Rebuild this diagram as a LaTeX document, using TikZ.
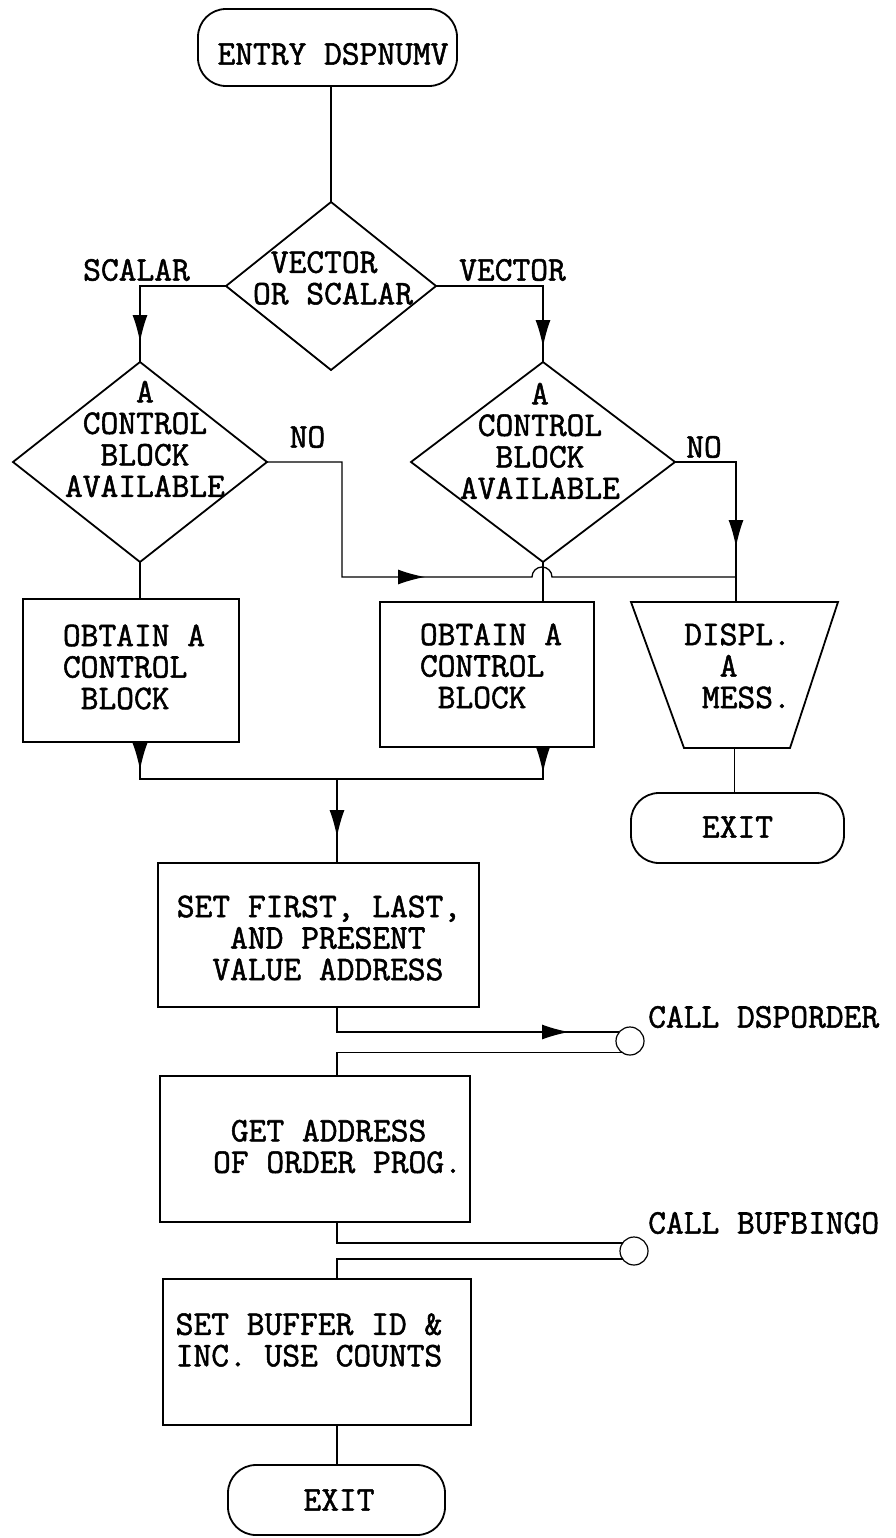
\documentclass[tikz,border=0pt]{standalone}
\usepackage{fontspec}
\newfontfamily\tw[FakeBold=1.5]{Latin Modern Mono}
\usetikzlibrary{arrows.meta,shapes.geometric,decorations.markings}
\begin{document}
\begin{tikzpicture}[x=1pt,y=-1pt,
  shp/.style={draw=black, line width=1.8pt, inner sep=0pt, outer sep=0pt},
  boxn/.style={shp, rectangle},
  term/.style={shp, rectangle, rounded corners=28pt},
  dia/.style={shp, diamond},
  txt/.style={font=\tw\fontsize{34.5}{31.5}\selectfont, align=left, inner sep=0pt, text=black},
  con/.style={draw=black, line width=1.3pt},
  midarrow/.style={postaction={decorate}, decoration={markings, mark=at position #1 with {\arrow{Latex[length=27pt,width=15pt]}}}}
]
\fill[white] (0,0) rectangle (895,1538);
\useasboundingbox (0,0) rectangle (895,1538);

% shapes
\node[term, minimum width=259pt, minimum height=77pt] (entry) at (327.5,47.5) {};
\node[txt] (entryt) at (333,54) {ENTRY DSPNUMV};

\node[dia, minimum width=210pt, minimum height=168pt] (d1) at (331,286) {};
\node[txt] (d1t) at (333,278) {\phantom{X}VECTOR\\OR SCALAR};
\node[txt] (lscal) at (136.5,270) {SCALAR};
\node[txt] (lvec) at (512.5,270) {VECTOR};

\node[dia, minimum width=254pt, minimum height=200pt] (d2) at (140,462) {};
\node[txt] (d2t) at (145,439) {\phantom{XXXX}A\\\phantom{X}CONTROL\\\phantom{XX}BLOCK\\AVAILABLE};
\node[dia, minimum width=264pt, minimum height=200pt] (d3) at (543,462) {};
\node[txt] (d3t) at (540,441) {\phantom{XXXX}A\\\phantom{X}CONTROL\\\phantom{XX}BLOCK\\AVAILABLE};
\node[txt] (no1) at (307.5,437) {NO};
\node[txt] (no2) at (704,447) {NO};

\node[boxn, minimum width=216pt, minimum height=143pt] (obt1) at (131,670.5) {};
\node[txt] (obt1t) at (134,667) {OBTAIN A\\CONTROL\\\phantom{X}BLOCK};
\node[boxn, minimum width=214pt, minimum height=145pt] (obt2) at (487,674.5) {};
\node[txt] (obt2t) at (491,666) {OBTAIN A\\CONTROL\\\phantom{X}BLOCK};

\node[inner sep=0pt, outer sep=0pt, minimum width=207pt, minimum height=146pt] (disp) at (734.5,675) {};
\draw[shp] (disp.north west) -- (disp.north east) -- ([xshift=-48pt]disp.south east) -- ([xshift=53pt]disp.south west) -- cycle;
\node[txt] (dispt) at (737.5,666) {DISPL.\\\phantom{XX}A\\\phantom{X}MESS.};

\node[term, minimum width=213pt, minimum height=70pt] (exit1) at (737.5,828) {};
\node[txt] (exit1t) at (737.5,827) {EXIT};

\node[boxn, minimum width=321pt, minimum height=144pt] (set) at (318.5,935) {};
\node[txt] (sett) at (319,938) {SET FIRST, LAST,\\\phantom{XXX}AND PRESENT\\\phantom{XX}VALUE ADDRESS};

\node[boxn, minimum width=310pt, minimum height=146pt] (get) at (315,1149) {};
\node[txt] (gett) at (337.5,1146.5) {\phantom{X}GET ADDRESS\\OF ORDER PROG.};

\node[boxn, minimum width=308pt, minimum height=146pt] (buf) at (317,1352) {};
\node[txt] (buft) at (309,1340) {SET BUFFER ID \&\\INC. USE COUNTS};

\node[term, minimum width=217pt, minimum height=70pt] (exit2) at (336.5,1500) {};
\node[txt] (exit2t) at (339,1500) {EXIT};

\node[shp, circle, line width=1.2pt, minimum size=28pt] (c1) at (630,1041) {};
\node[shp, circle, line width=1.2pt, minimum size=28pt] (c2) at (634,1251) {};
\node[txt, anchor=west] (call1) at (648,1017) {CALL DSPORDER};
\node[txt, anchor=west] (call2) at (648,1223) {CALL BUFBINGO};

% helper coordinates
\coordinate (colx) at (337,0);
\coordinate (mrg) at (337,779);
\coordinate (rx) at (736,462);
\coordinate (jn) at (736,577);
\coordinate (lx) at (342,462);
\coordinate (lb) at (342,577);
\coordinate (h1) at (532,577);

% connectors
\draw[con] (entry.south -| d1.north) -- (d1.north);
\draw[con, midarrow=142pt] (d1.west) -| (d2.north);
\draw[con, midarrow=168pt] (d1.east) -| (d3.north);
\draw[con] (d2.south) -- (d2.south |- obt1.north);
\draw[con] (d3.south) -- (d3.south |- obt2.north);
\draw[con, midarrow=146pt] (d3.east) -- (rx) -- (rx |- disp.north);
\draw[con, midarrow=273pt] (d2.east) -- (lx) -- (lb) -- (h1) arc[start angle=180, end angle=0, radius=10pt] -- (jn);
\draw[con] (disp.south) -- (disp.south |- exit1.north);
\draw[con, midarrow=28pt] (obt1.south -| d2.south) |- (mrg);
\draw[con, midarrow=26pt] (obt2.south -| d3.south) |- (mrg);
\draw[con, midarrow=58pt] (mrg) -- (mrg |- set.north);
\draw[con, midarrow=257pt] (set.south -| colx) |- (c1.140);
\draw[con] (c1.235) -| (get.north -| colx);
\draw[con] (get.south -| colx) |- (c2.145);
\draw[con] (c2.215) -| (buf.north -| colx);
\draw[con] (buf.south -| colx) -- (exit2.north -| colx);
\end{tikzpicture}
\end{document}
